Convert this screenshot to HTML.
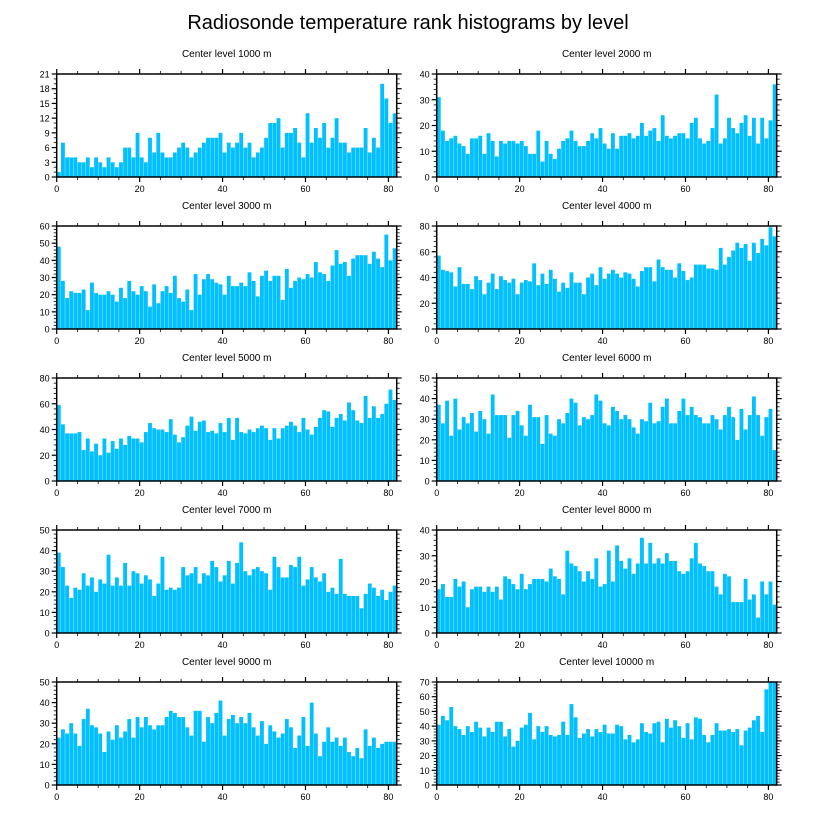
<!DOCTYPE html>
<html><head><meta charset="utf-8"><style>
body{margin:0;background:#fff;}
svg{display:block;font-family:"Liberation Sans",Arial,sans-serif;}
</style></head><body>
<svg id="chart" width="816" height="824" viewBox="0 0 816 824" xmlns="http://www.w3.org/2000/svg">
<text x="408" y="29" text-anchor="middle" font-size="20" fill="#000">Radiosonde temperature rank histograms by level</text>
</svg>
<script>
const titles = ["Center level 1000 m","Center level 2000 m","Center level 3000 m","Center level 4000 m","Center level 5000 m","Center level 6000 m","Center level 7000 m","Center level 8000 m","Center level 9000 m","Center level 10000 m"];
const yMax = [21,40,60,80,80,50,50,40,50,70];
const yStep = [3,10,10,20,20,10,10,10,10,10];
const xTicks = [0,20,40,60,80];
const d1 = [1,7,4,4,4,3,3,4,2,4,3,2,4,3,2,3,6,6,4,9,4,3,8,5,9,5,4,4,5,6,7,6,4,5,6,7,8,8,8,9,5,7,6,7,9,6,7,4,5,6,8,11,11,12,6,9,9,10,7,4,13,7,10,8,11,6,8,12,7,7,5,6,6,6,10,5,8,6,19,16,11,13];
const d2 = [31,18,14,15,16,13,12,9,15,15,16,9,17,14,8,14,13,14,14,13,14,12,9,9,18,6,14,9,7,11,14,15,18,14,12,12,14,17,15,19,13,11,17,11,16,16,17,15,16,21,16,18,19,14,24,16,15,16,17,17,15,21,23,15,13,14,19,32,13,15,23,19,17,21,24,16,23,13,23,15,22,36];
const d3 = [48,28,18,22,21,21,23,11,27,21,20,20,22,20,16,24,18,28,22,20,25,22,13,26,15,22,25,21,31,18,16,23,11,32,20,29,32,29,27,26,20,31,25,25,27,25,33,28,19,31,34,28,31,31,17,35,24,28,30,29,32,30,39,33,32,28,37,46,38,39,31,41,43,43,43,38,45,41,36,55,40,47];
const d4 = [57,46,45,44,33,48,35,35,31,41,38,27,36,43,31,41,38,36,39,27,36,38,37,51,34,43,35,46,39,29,36,32,44,36,36,27,40,43,34,48,39,43,46,43,40,44,43,39,33,45,48,48,37,54,48,46,46,40,51,45,38,40,50,50,50,47,47,46,63,50,56,61,67,63,66,53,67,59,70,65,79,72];
const d5 = [59,44,37,37,37,38,24,33,23,29,20,33,22,31,25,33,28,35,33,33,30,38,45,41,40,40,38,48,36,30,34,43,50,39,46,47,38,39,37,45,38,49,32,49,38,37,40,38,41,43,41,32,41,33,41,43,46,43,38,49,40,36,42,49,55,54,42,49,52,47,61,55,47,45,66,49,58,49,52,60,71,63];
const d6 = [37,28,39,22,40,25,31,28,33,24,34,30,23,42,32,32,32,21,32,34,27,22,37,31,31,18,32,23,22,30,28,33,40,38,27,31,30,32,42,39,28,27,36,34,30,32,30,26,23,30,29,38,28,29,36,40,28,28,34,40,32,36,32,31,28,28,32,30,25,32,36,31,20,35,25,32,41,32,22,31,35,15];
const d7 = [39,32,23,17,22,21,29,23,27,20,26,24,38,23,27,23,34,23,30,29,24,28,26,18,24,37,21,22,21,22,32,28,29,32,24,29,28,35,32,25,28,35,24,34,44,30,28,31,32,30,29,21,37,32,27,27,33,32,37,23,26,32,27,25,29,20,22,19,36,19,18,18,18,12,19,24,22,18,21,16,20,23];
const d8 = [17,19,14,14,21,18,20,10,17,18,18,16,18,16,18,13,22,21,19,17,23,17,19,21,21,21,20,25,22,21,15,32,27,26,24,20,24,21,29,18,19,32,20,34,28,25,29,23,27,37,27,35,27,29,27,31,28,28,24,23,24,29,35,27,26,24,24,18,15,23,22,12,12,12,21,13,15,6,20,15,20,11];
const d9 = [23,27,25,30,25,19,32,37,29,28,25,16,26,22,29,23,26,32,23,33,28,33,29,27,29,29,33,36,35,33,33,28,24,36,36,21,33,30,35,41,24,32,34,30,33,30,35,28,24,31,20,29,26,23,25,32,28,18,24,33,19,40,25,14,21,28,21,23,19,23,16,14,18,13,27,19,23,18,20,21,21,21];
const d10 = [41,47,44,53,40,38,34,40,36,43,39,33,39,36,43,43,33,38,26,30,39,41,49,31,40,36,40,34,33,34,43,34,55,46,32,35,38,33,38,36,41,35,35,41,40,31,34,29,31,42,36,35,42,43,29,45,39,44,40,32,42,31,46,45,34,29,34,42,37,37,38,36,38,27,37,39,44,47,36,65,70,70];
const series = [d1,d2,d3,d4,d5,d6,d7,d8,d9,d10];

const NS = "http://www.w3.org/2000/svg";
const svg = document.getElementById('chart');
const W = 340, H = 103, XMAX = 82;
function mk(tag, attrs, parent){const e=document.createElementNS(NS,tag);for(const k in attrs)e.setAttribute(k,attrs[k]);parent.appendChild(e);return e;}

for (let p=0;p<10;p++){
  const col=p%2, row=Math.floor(p/2);
  const x0 = col===0?56.7:436.7, y0 = 74+row*152;
  const xs = v => x0 + v*W/XMAX;
  const ys = v => y0 + H - v*H/yMax[p];
  const g = mk('g',{},svg);
  
  
  const t = mk('text',{x:x0+W/2,y:y0-17,'text-anchor':'middle','font-size':'10',fill:'#000'},g);
  t.textContent = titles[p];
  
  
  const data = series[p];
  for (let i=0;i<data.length;i++){
    const v=Math.min(data[i],yMax[p]);
    const r = mk('rect',{x:xs(i)+0.15,y:ys(v),width:W/XMAX-0.3,height:ys(0)-ys(v),fill:'#00c0ff'},g);
    
    
  }
  const fr = mk('rect',{x:x0,y:y0,width:W,height:H,fill:'none',stroke:'#000','stroke-width':'1.5'},g);
  
  
  for (let v=0; v<=XMAX; v+=5){
    const major = v%20===0, L = major?5:3, X=xs(v);
    mk('line',{x1:X,x2:X,y1:y0+H,y2:y0+H+L,stroke:'#000','stroke-width':major?1.2:0.8},g);
    mk('line',{x1:X,x2:X,y1:y0,y2:y0-L,stroke:'#000','stroke-width':major?1.2:0.8},g);
  }
  for (const v of xTicks){
    const tl = mk('text',{x:xs(v),y:y0+H+15,'text-anchor':'middle','font-size':'9',fill:'#000'},g);
    tl.textContent = v;
    
    
  }
  const minor = yStep[p]===3?1:yStep[p]/5;
  for (let k=0; k*minor<=yMax[p]+1e-9; k++){
    const v=k*minor, major = Math.abs(v/yStep[p]-Math.round(v/yStep[p]))<1e-9, L=major?5:3, Y=ys(v);
    mk('line',{x1:x0-L,x2:x0,y1:Y,y2:Y,stroke:'#000','stroke-width':major?1.2:0.8},g);
    mk('line',{x1:x0+W,x2:x0+W+L,y1:Y,y2:Y,stroke:'#000','stroke-width':major?1.2:0.8},g);
    if (major){
      const yl = mk('text',{x:x0-7,y:Y+3.5,'text-anchor':'end','font-size':'9',fill:'#000'},g);
      yl.textContent = v;
      
      
    }
  }
}
</script>
</body></html>
